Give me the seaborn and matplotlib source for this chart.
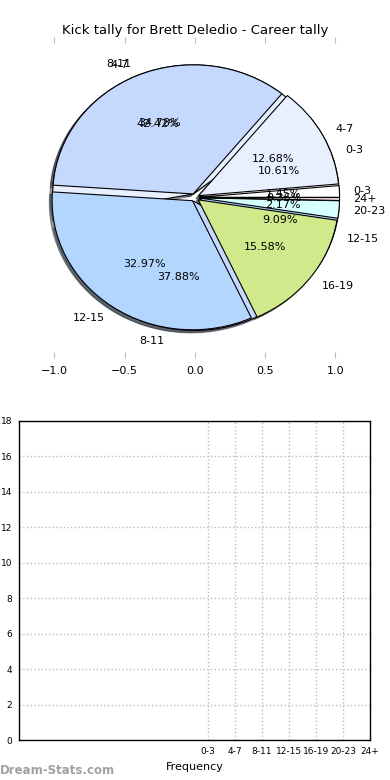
import numpy as np
import matplotlib
matplotlib.use("Agg")
import matplotlib.pyplot as plt
import seaborn as sns
import pandas as pd

sns.set_style("white")
plt.rcParams['font.family'] = ['DejaVu Sans']
plt.rcParams['text.color'] = 'black'
plt.rcParams['axes.labelcolor'] = 'black'
plt.rcParams['xtick.labelcolor'] = 'black'
plt.rcParams['ytick.labelcolor'] = 'black'

title = "Kick tally for Brett Deledio - Career tally"
career_labels = ["0-3", "4-7", "8-11", "12-15", "16-19", "20-23", "24+"]
career_pct = [1.45, 12.68, 34.78, 32.97, 15.58, 2.17, 0.36]
second_labels = ["0-3", "4-7", "8-11", "12-15"]
second_pct = [10.61, 42.42, 37.88, 9.09]
slice_colors = ["#ffffff", "#e8f0ff", "#c5d9ff", "#b3d6ff", "#cfe98b", "#d6ffff", "#ffe8e8"]

bins = ["0-3", "4-7", "8-11", "12-15", "16-19", "20-23", "24+"]
counts = [0, 0, 0, 0, 0, 0, 0]
y_ticks = list(range(0, 19, 2))
x_ticks_pie = [-1.0, -0.5, 0.0, 0.5, 1.0]

W, H = 390, 780
fig = plt.figure(figsize=(W / 100, H / 100), dpi=100)

# ---- pie axes ----
axp = fig.add_axes([40.4 / W, 1 - 355 / H, 309 / W, 315 / H])
wp = dict(edgecolor="black", linewidth=0.8)
shd = dict(ox=-0.014, oy=-0.014, shade=0.75)
axp.pie(second_pct, labels=second_labels, colors=slice_colors[:4],
        explode=[0.03] * 4, autopct="%.2f%%", shadow=shd,
        wedgeprops=wp, textprops=dict(fontsize=8, color="black"))
axp.pie(career_pct, labels=career_labels, colors=slice_colors,
        explode=[0.03] * 7, autopct="%.2f%%", shadow=shd,
        wedgeprops=wp, textprops=dict(fontsize=8, color="black"))
axp.set_aspect("auto")
axp.set_xlim(-1.1, 1.1)
axp.set_ylim(-1.22, 1.22)
axp.set_frame_on(False)
axp.set_xticks(x_ticks_pie)
axp.set_yticks([])
axp.tick_params(axis="x", top=True, bottom=True, direction="inout", length=4,
                color="#bbbbbb", labelsize=8, pad=6, labelcolor="black")
axp.set_title(title, fontsize=9.5, pad=4, color="black")

# ---- bottom axes ----
ax = fig.add_axes([19 / W, 1 - 740 / H, 351 / W, 319 / H])
df = pd.DataFrame({"bin": bins, "count": counts})
sns.barplot(data=df, x="bin", y="count", ax=ax, color="#b3d6ff")
ax.set_xlim(-7, 6)
ax.set_ylim(0, 18)
ax.set_yticks(y_ticks)
ax.set_xticks(range(len(bins)))
ax.set_xticklabels(bins)
ax.grid(True, linestyle=":", color="#bbbbbb", linewidth=1)
for s in ax.spines.values():
    s.set_color("black")
    s.set_linewidth(1)
ax.tick_params(axis="both", labelsize=6.5, length=3, color="#bbbbbb", pad=2,
               labelcolor="black")
ax.set_xlabel("Frequency", fontsize=8, labelpad=4)
ax.set_ylabel("Statistic Value", fontsize=7)
ax.yaxis.set_label_coords(-0.06, 0.5)

fig.text(0.0, 1 - 771 / H, "Dream-Stats.com", color="#a0a0a0", fontsize=8.5,
         fontweight="bold", ha="left", va="center")

fig.savefig("out.png", dpi=100)
